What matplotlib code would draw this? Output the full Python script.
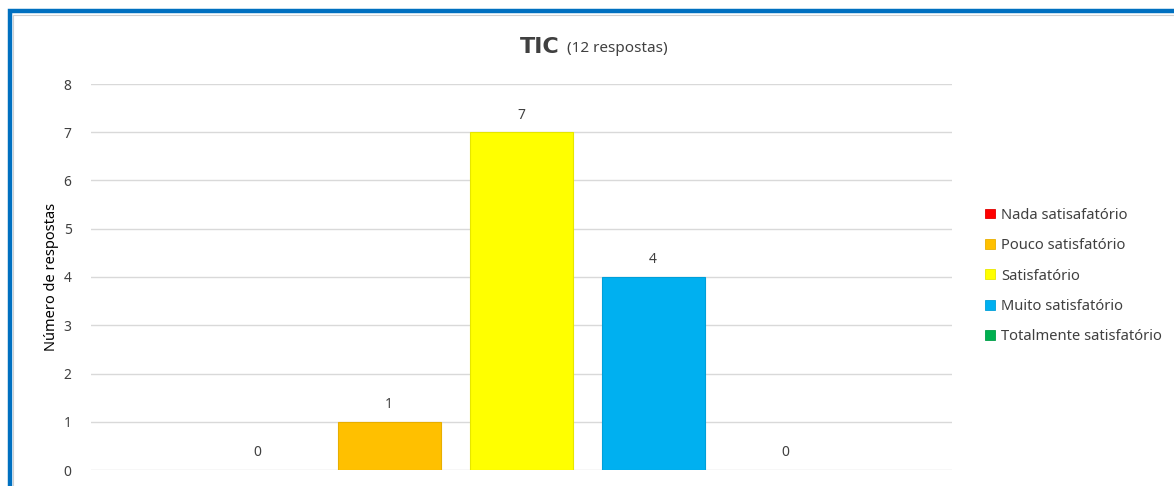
import matplotlib.pyplot as plt
from matplotlib.patches import Rectangle, Patch

plt.rcParams['font.family'] = ['Noto Sans', 'DejaVu Sans']

series = ['Nada satisafatório', 'Pouco satisfatório', 'Satisfatório',
          'Muito satisfatório', 'Totalmente satisfatório']
values = [0, 1, 7, 4, 0]
colors = ['#FF0000', '#FFC000', '#FFFF00', '#00B0F0', '#00B050']
edges = ['#E00000', '#E8AE00', '#E6E600', '#009FD9', '#009E48']

fig = plt.figure(figsize=(11.74, 4.86), dpi=100)
ax = fig.add_axes([91 / 1174, 16 / 486, 861 / 1174, 386 / 486])

pos = list(range(len(series)))
lw = [0.8 if v > 0 else 0 for v in values]
bars = ax.bar(pos, values, width=0.78, color=colors, edgecolor=edges, linewidth=lw, zorder=3)
ax.bar_label(bars, padding=7, fontsize=10, color='#404040')

ax.set_xlim(-1.258, 5.265)
ax.set_ylim(0, 8)
ax.set_yticks(range(9))
ax.set_xticks([])
ax.yaxis.grid(True, color='#D9D9D9', linewidth=1, zorder=0)
for s in ax.spines.values():
    s.set_visible(False)
ax.tick_params(axis='y', length=0, pad=14, labelsize=10, labelcolor='#404040')
ax.set_ylabel('Número de respostas', fontsize=10.5, color='#000000', labelpad=3)

fig.text(0.477, 0.903, 'TIC', fontsize=16, fontweight='bold', family='DejaVu Sans',
         color='#404040', ha='right', va='center')
fig.text(0.483, 0.900, '(12 respostas)', fontsize=11, color='#404040', ha='left', va='center')

handles = [Patch(facecolor=c, edgecolor=e, linewidth=0.6) for c, e in zip(colors, edges)]
fig.legend(handles, series, loc='center left', bbox_to_anchor=(0.828, 0.432), frameon=False,
           fontsize=10.6, handlelength=0.65, handleheight=0.65, handletextpad=0.4,
           labelspacing=1.05, labelcolor='#404040')

fig.patches.append(Rectangle((9.5 / 1174, -0.1), 1.2, (486 - 11.5) / 486 + 0.1,
                             transform=fig.transFigure, fill=False,
                             edgecolor='#0070C0', linewidth=3.2, zorder=10))
fig.patches.append(Rectangle((12.5 / 1174, -0.1), 1.2, (486 - 14.5) / 486 + 0.1,
                             transform=fig.transFigure, fill=False,
                             edgecolor='#D0D0D0', linewidth=0.8, zorder=9))

fig.savefig('out.png', dpi=100)
